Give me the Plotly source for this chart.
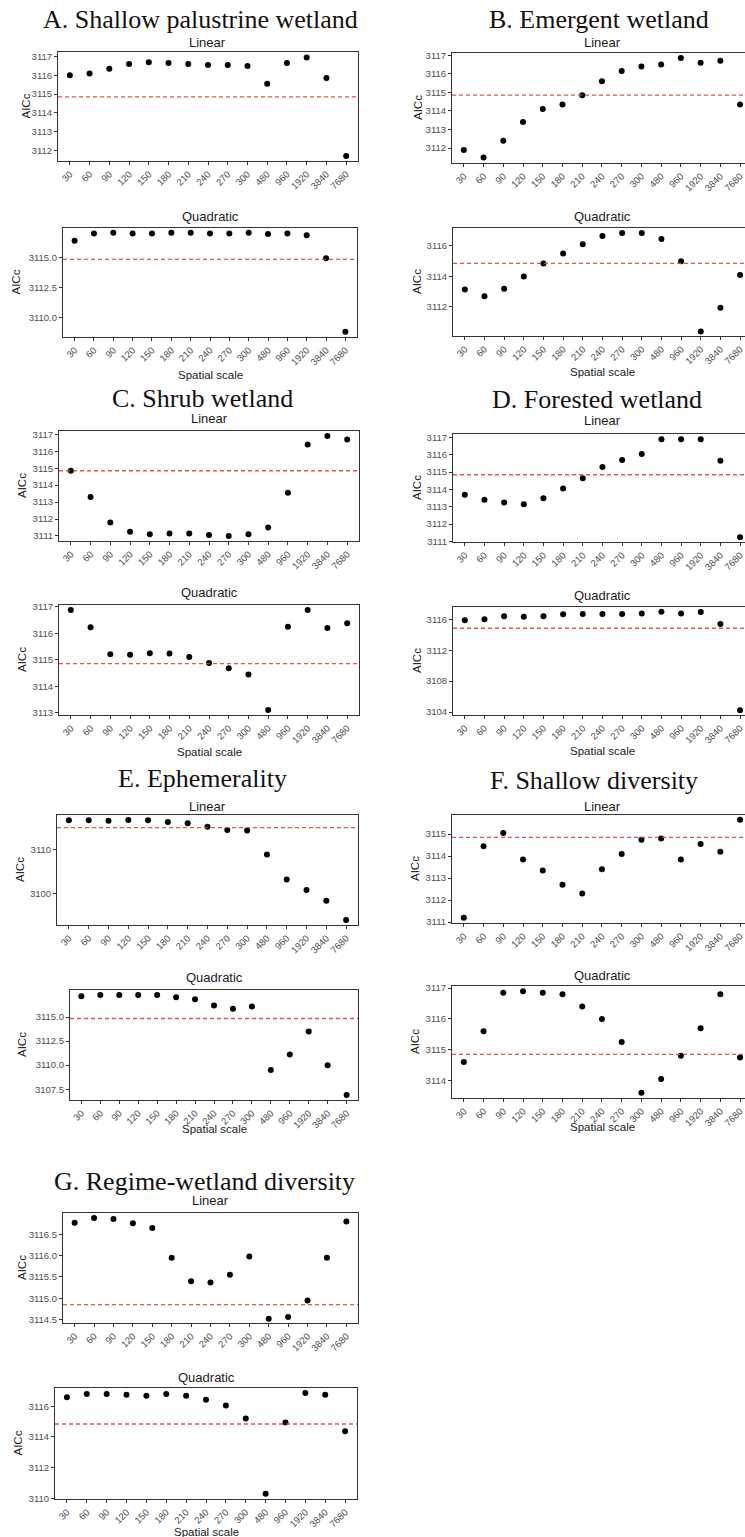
import plotly.graph_objects as go

W, H = 745, 1537

scales = ["30", "60", "90", "120", "150", "180", "210", "240", "270", "300",
          "480", "960", "1920", "3840", "7680"]
NULL_AICC = 3114.85

a_linear = [3116.0, 3116.1, 3116.35, 3116.6, 3116.7, 3116.65, 3116.6, 3116.55, 3116.55, 3116.5,
            3115.55, 3116.65, 3116.95, 3115.85, 3111.7]
a_quadratic = [3116.4, 3117.0, 3117.05, 3117.0, 3117.0, 3117.05, 3117.05, 3117.0, 3117.0, 3117.05,
               3116.95, 3117.0, 3116.85, 3114.95, 3108.85]
b_linear = [3111.9, 3111.5, 3112.4, 3113.4, 3114.1, 3114.35, 3114.85, 3115.6, 3116.15, 3116.4,
            3116.5, 3116.85, 3116.6, 3116.7, 3114.35]
b_quadratic = [3113.15, 3112.7, 3113.2, 3114.0, 3114.85, 3115.5, 3116.1, 3116.65, 3116.85, 3116.85,
               3116.45, 3115.0, 3110.4, 3111.95, 3114.1]
c_linear = [3114.85, 3113.3, 3111.8, 3111.25, 3111.1, 3111.15, 3111.15, 3111.05, 3111.0, 3111.1,
            3111.5, 3113.55, 3116.4, 3116.9, 3116.7]
c_quadratic = [3116.88, 3116.23, 3115.21, 3115.19, 3115.25, 3115.24, 3115.1, 3114.88, 3114.68, 3114.44,
               3113.1, 3116.25, 3116.88, 3116.2, 3116.38]
d_linear = [3113.7, 3113.4, 3113.25, 3113.15, 3113.5, 3114.05, 3114.65, 3115.3, 3115.7, 3116.05,
            3116.9, 3116.9, 3116.9, 3115.65, 3111.25]
d_quadratic = [3115.9, 3116.0, 3116.4, 3116.35, 3116.4, 3116.65, 3116.7, 3116.7, 3116.7, 3116.75,
               3117.0, 3116.75, 3116.95, 3115.4, 3104.25]
e_linear = [3116.5, 3116.5, 3116.4, 3116.6, 3116.5, 3116.1, 3115.85, 3115.05, 3114.35, 3114.2,
            3108.8, 3103.2, 3100.8, 3098.4, 3094.1]
e_quadratic = [3117.15, 3117.3, 3117.3, 3117.3, 3117.3, 3117.05, 3116.85, 3116.2, 3115.85, 3116.1,
               3109.5, 3111.1, 3113.5, 3110.0, 3106.9]
f_linear = [3111.2, 3114.45, 3115.05, 3113.85, 3113.35, 3112.7, 3112.3, 3113.4, 3114.1, 3114.75,
            3114.8, 3113.85, 3114.55, 3114.2, 3115.65]
f_quadratic = [3114.6, 3115.6, 3116.85, 3116.9, 3116.85, 3116.8, 3116.4, 3116.0, 3115.25, 3113.6,
               3114.05, 3114.8, 3115.7, 3116.8, 3114.75]
g_linear = [3116.77, 3116.88, 3116.86, 3116.76, 3116.65, 3115.95, 3115.4, 3115.37, 3115.55, 3115.98,
            3114.52, 3114.56, 3114.95, 3115.95, 3116.8]
g_quadratic = [3116.6, 3116.8, 3116.8, 3116.76, 3116.7, 3116.8, 3116.7, 3116.43, 3116.06, 3115.2,
               3110.3, 3114.95, 3116.87, 3116.76, 3114.37]

group_titles = ["A. Shallow palustrine wetland", "B. Emergent wetland", "C. Shrub wetland",
                "D. Forested wetland", "E. Ephemerality", "F. Shallow diversity",
                "G. Regime-wetland diversity"]
model_names = ["Linear", "Quadratic"]
series = [(a_linear, a_quadratic), (b_linear, b_quadratic), (c_linear, c_quadratic),
          (d_linear, d_quadratic), (e_linear, e_quadratic), (f_linear, f_quadratic),
          (g_linear, g_quadratic)]

# layout geometry (pixels): left, right, top, bottom, y-range, ticks, AICc x, subtitle y, x-label y
geom = [
    [dict(l=58, r=358, t=52, b=161, yr=[3111.44, 3117.24], tv=[3112, 3113, 3114, 3115, 3116, 3117], fmt="d", ax=25, sy=42),
     dict(l=63, r=357, t=228, b=337, yr=[3108.42, 3117.45], tv=[3110, 3112.5, 3115], fmt=".1f", ax=16, sy=217, xl=375)],
    [dict(l=452, r=745, t=53, b=163, yr=[3111.2, 3117.12], tv=[3112, 3113, 3114, 3115, 3116, 3117], fmt="d", ax=418, sy=42),
     dict(l=453, r=745, t=228, b=336, yr=[3110.1, 3117.17], tv=[3112, 3114, 3116], fmt="d", ax=417, sy=217, xl=372)],
    [dict(l=59, r=359, t=431, b=541, yr=[3110.7, 3117.2], tv=[3111, 3112, 3113, 3114, 3115, 3116, 3117], fmt="d", ax=22, sy=419),
     dict(l=59, r=359, t=605, b=715, yr=[3112.91, 3117.07], tv=[3113, 3114, 3115, 3116, 3117], fmt="d", ax=22, sy=593, xl=752)],
    [dict(l=453, r=745, t=434, b=542, yr=[3110.97, 3117.2], tv=[3111, 3112, 3113, 3114, 3115, 3116, 3117], fmt="d", ax=417, sy=421),
     dict(l=453, r=745, t=607, b=715, yr=[3103.62, 3117.6], tv=[3104, 3108, 3112, 3116], fmt="d", ax=417, sy=595, xl=751)],
    [dict(l=57, r=358, t=815, b=925, yr=[3092.95, 3117.7], tv=[3100, 3110], fmt="d", ax=20, sy=807),
     dict(l=70, r=358, t=990, b=1100, yr=[3106.38, 3117.81], tv=[3107.5, 3110, 3112.5, 3115], fmt=".1f", ax=22, sy=977, xl=1129)],
    [dict(l=452, r=745, t=815, b=923, yr=[3110.96, 3115.87], tv=[3111, 3112, 3113, 3114, 3115], fmt="d", ax=415, sy=807),
     dict(l=452, r=745, t=986, b=1098, yr=[3113.43, 3117.07], tv=[3114, 3115, 3116, 3117], fmt="d", ax=415, sy=975, xl=1127)],
    [dict(l=63, r=358, t=1213, b=1323, yr=[3114.42, 3117.0], tv=[3114.5, 3115.0, 3115.5, 3116.0, 3116.5], fmt=".1f", ax=22, sy=1200),
     dict(l=55, r=357, t=1388, b=1499, yr=[3109.95, 3117.2], tv=[3110, 3112, 3114, 3116], fmt="d", ax=17, sy=1377, xl=1532)],
]
title_pos = [(200, 19), (599, 19), (202, 398), (597, 399), (202, 778), (594, 780), (204, 1181)]

SANS = "Liberation Sans, Arial, sans-serif"
SERIF = "Liberation Serif, Times New Roman, serif"

def fx(px):
    return px / W

def fy(py):
    return 1 - py / H

fig = go.Figure()
annotations = []
shapes = []
idx = 0
for gi, (pair, gpair) in enumerate(zip(series, geom)):
    for mi, (vals, g) in enumerate(zip(pair, gpair)):
        idx += 1
        xa = "x" if idx == 1 else f"x{idx}"
        ya = "y" if idx == 1 else f"y{idx}"
        right_col = g["r"] >= 745
        fig.add_trace(go.Scatter(
            x=scales, y=vals, mode="markers", xaxis=xa, yaxis=ya,
            marker=dict(color="black", size=6), showlegend=False, hoverinfo="x+y"))
        xr = [-0.6, 14.25] if right_col else [-0.6, 14.6]
        fig.update_layout(**{
            ("xaxis" if idx == 1 else f"xaxis{idx}"): dict(
                domain=[fx(g["l"]), fx(g["r"])], anchor=ya, type="category",
                categoryarray=scales, categoryorder="array", range=xr, automargin=False,
                showline=True, mirror=True, linecolor="#333333", linewidth=1.1,
                ticks="outside", ticklen=3, tickcolor="#333333", tickwidth=1,
                tickangle=-45, tickfont=dict(family=SANS, size=9.5, color="#4d4d4d"),
                showgrid=False, zeroline=False, fixedrange=True),
            ("yaxis" if idx == 1 else f"yaxis{idx}"): dict(
                domain=[fy(g["b"]), fy(g["t"])], anchor=xa, range=g["yr"], automargin=False,
                tickvals=g["tv"], tickformat=g["fmt"],
                showline=True, mirror=(not right_col), linecolor="#333333", linewidth=1.1,
                ticks="outside", ticklen=3, tickcolor="#333333", tickwidth=1,
                tickfont=dict(family=SANS, size=9.5, color="#4d4d4d"),
                showgrid=False, zeroline=False, fixedrange=True),
        })
        shapes.append(dict(type="line", xref=f"{xa} domain", yref=ya, x0=0, x1=1,
                           y0=NULL_AICC, y1=NULL_AICC,
                           line=dict(color="rgba(215,70,60,0.9)", width=1.3, dash="4px,3px")))
        cx = 602 if right_col else (g["l"] + g["r"]) / 2
        annotations.append(dict(text=model_names[mi], x=fx(cx), y=fy(g["sy"]),
                                xref="paper", yref="paper", showarrow=False,
                                xanchor="center", yanchor="middle",
                                font=dict(family=SANS, size=13, color="#1a1a1a")))
        annotations.append(dict(text="AICc", x=fx(g["ax"]), y=fy((g["t"] + g["b"]) / 2),
                                xref="paper", yref="paper", showarrow=False, textangle=-90,
                                xanchor="center", yanchor="middle",
                                font=dict(family=SANS, size=11.5, color="#1a1a1a")))
        if "xl" in g:
            annotations.append(dict(text="Spatial scale", x=fx(cx), y=fy(g["xl"]),
                                    xref="paper", yref="paper", showarrow=False,
                                    xanchor="center", yanchor="middle",
                                    font=dict(family=SANS, size=11.5, color="#1a1a1a")))
    tx, ty = title_pos[gi]
    annotations.append(dict(text=group_titles[gi], x=fx(tx), y=fy(ty),
                            xref="paper", yref="paper", showarrow=False,
                            xanchor="center", yanchor="middle",
                            font=dict(family=SERIF, size=26, color="#111111")))

fig.update_layout(
    template="none",
    width=W, height=H, margin=dict(l=0, r=0, t=0, b=0, autoexpand=False),
    paper_bgcolor="white", plot_bgcolor="white",
    annotations=annotations, shapes=shapes, showlegend=False,
)

fig.write_html("out.html", config={"displayModeBar": False},
               post_script="document.body.style.margin='0';document.body.style.overflow='hidden';")
